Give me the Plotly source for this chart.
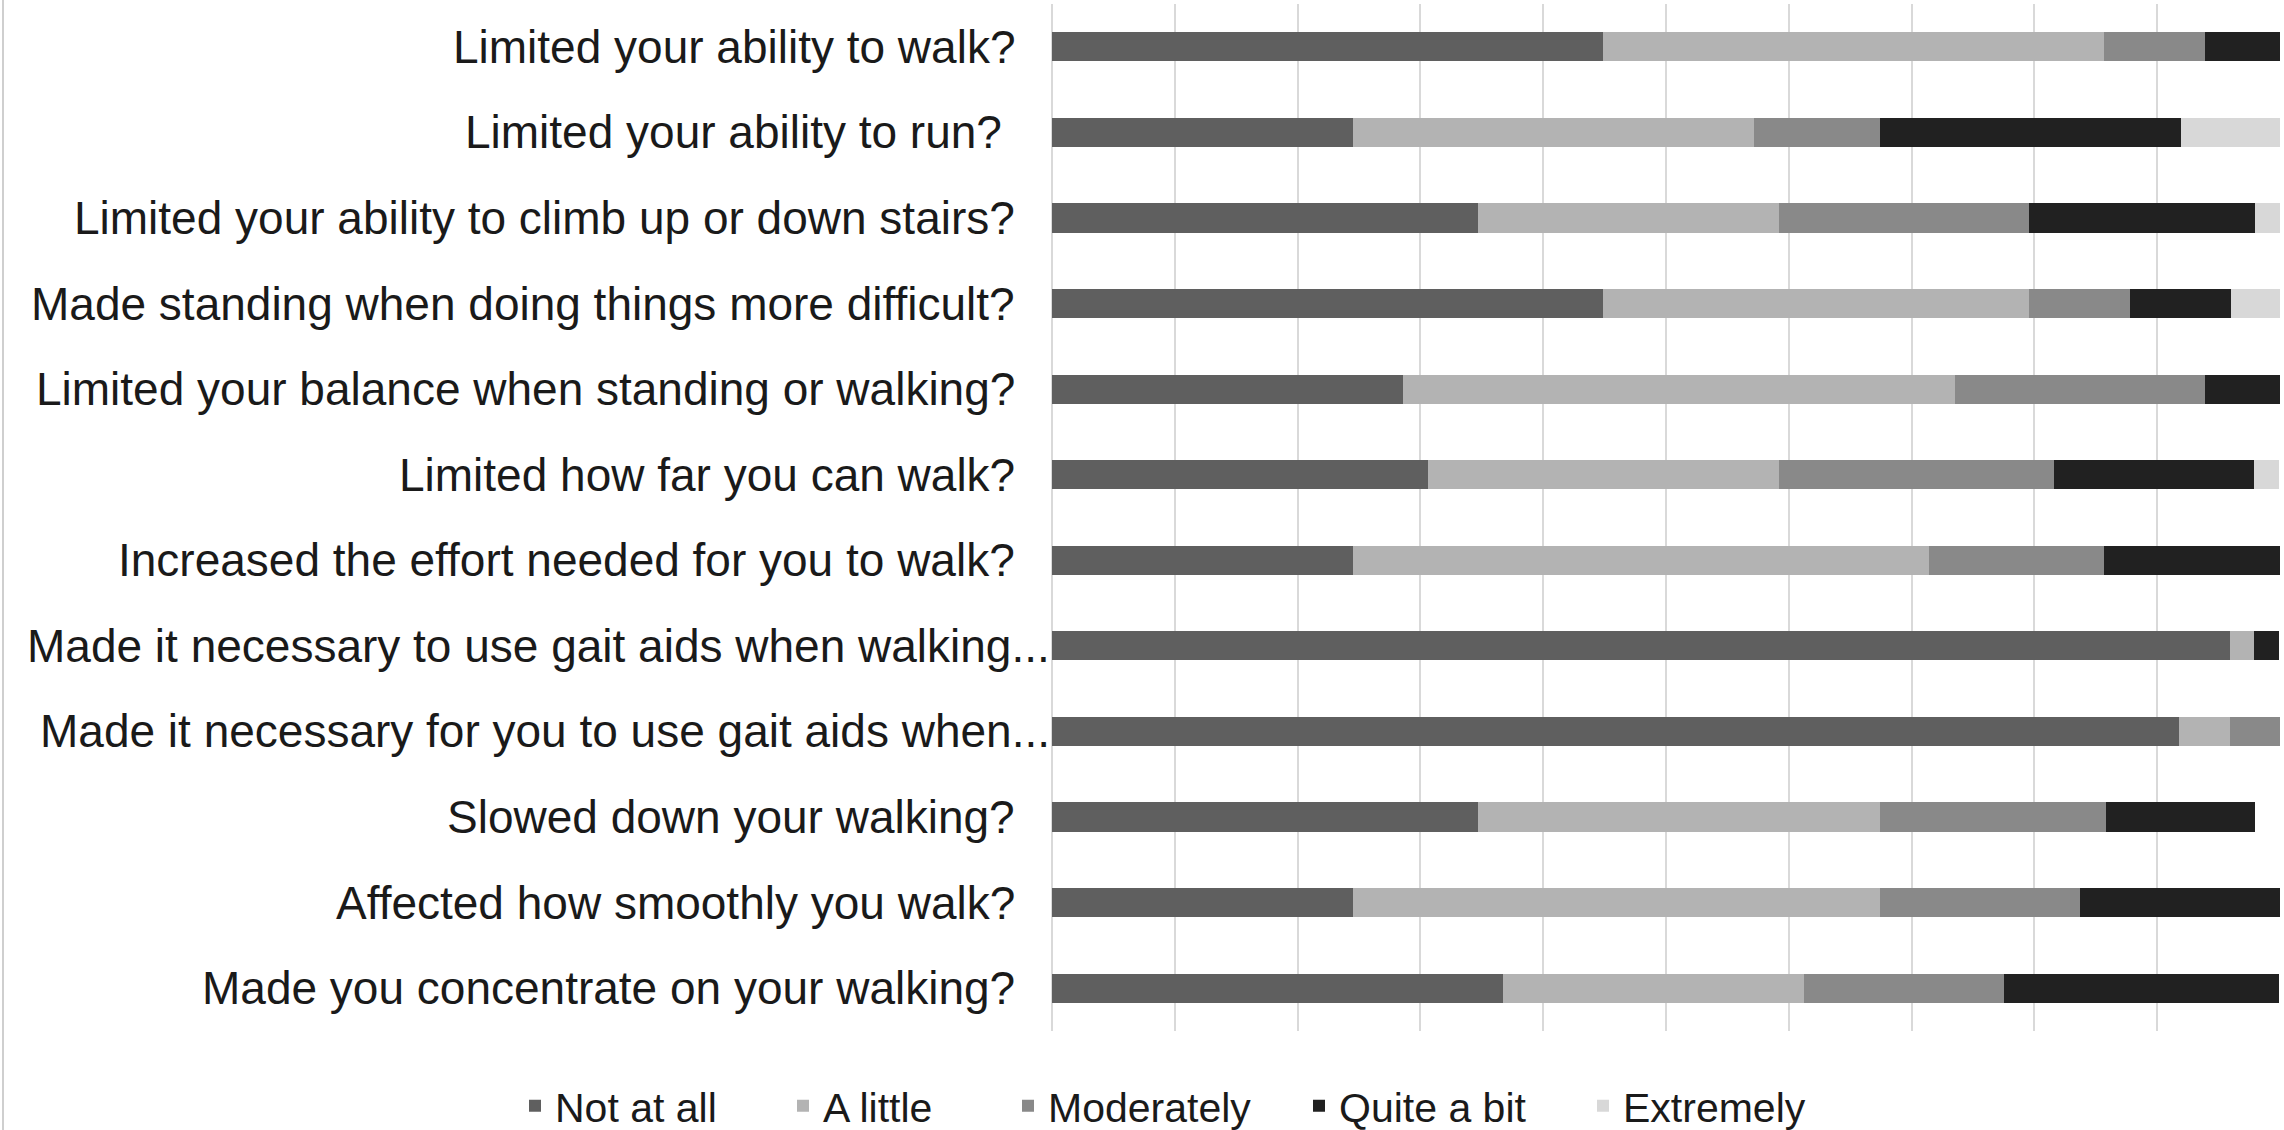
import plotly.graph_objects as go

questions = [
    "Limited your ability to walk?",
    "Limited your ability to run?\u00a0",
    "Limited your ability to climb up or down stairs?",
    "Made standing when doing things more difficult?",
    "Limited your balance when standing or walking?",
    "Limited how far you can walk?",
    "Increased the effort needed for you to walk?",
    "Made it necessary to use gait aids when walking...",
    "Made it necessary for you to use gait aids when...",
    "Slowed down your walking?",
    "Affected how smoothly you walk?",
    "Made you concentrate on your walking?",
]

not_at_all = [44.9, 24.5, 34.7, 44.9, 28.6, 30.6, 24.5, 95.9, 91.8, 34.7, 24.5, 36.7]
a_little = [40.8, 32.7, 24.5, 34.7, 44.9, 28.6, 46.9, 2.0, 4.1, 32.7, 42.9, 24.5]
moderately = [8.2, 10.2, 20.4, 8.2, 20.4, 22.4, 14.3, 0, 4.1, 18.4, 16.3, 16.3]
quite_a_bit = [6.1, 24.5, 18.4, 8.2, 6.1, 16.3, 14.3, 2.0, 0, 12.2, 16.3, 22.4]
extremely = [0, 8.2, 2.0, 4.1, 0, 2.0, 0, 0, 0, 0, 0, 0]

series_names = ["Not at all", "A little", "Moderately", "Quite a bit", "Extremely"]
series_values = [not_at_all, a_little, moderately, quite_a_bit, extremely]
series_colors = ["#5f5f5f", "#b3b3b3", "#898989", "#212121", "#d8d8d8"]

FONT = "Liberation Sans, Arial, sans-serif"

W, H = 2284, 1130
ML, MR, MT, MB = 1052, 4, 4, 99

fig = go.Figure()
legend_ids = ["legend", "legend2", "legend3", "legend4", "legend5"]
legend_x = [515, 783, 1008, 1299, 1583]

for name, vals, col, lid in zip(series_names, series_values, series_colors, legend_ids):
    fig.add_trace(go.Bar(
        y=questions, x=vals, name=name, orientation="h",
        marker=dict(color=col, line=dict(width=0)),
        legend=lid,
    ))

layout_legends = {}
for lid, lx in zip(legend_ids, legend_x):
    layout_legends[lid] = dict(
        x=lx / W, xref="container", xanchor="left",
        y=1 - 1106 / H, yref="container", yanchor="middle",
        orientation="h", bgcolor="rgba(0,0,0,0)",
        font=dict(family=FONT, size=41, color="#1a1a1a"),
        itemwidth=30,
    )

# category labels drawn as annotations so the truncated ones can overhang the axis
annotations = []
for q in questions:
    overhang = q.endswith("...")
    annotations.append(dict(
        x=0, xref="paper", y=q, yref="y",
        text=q, showarrow=False, xanchor="right", yanchor="middle",
        xshift=0 if overhang else -35,
        font=dict(family=FONT, size=46, color="#1a1a1a"),
    ))

fig.update_layout(
    width=W, height=H,
    margin=dict(l=ML, r=MR, t=MT, b=MB, autoexpand=False),
    barmode="stack", bargap=0.66,
    plot_bgcolor="white", paper_bgcolor="white",
    showlegend=True,
    xaxis=dict(range=[0, 100], dtick=10, showticklabels=False,
               showgrid=True, gridcolor="#d9d9d9", gridwidth=1.5,
               zeroline=True, zerolinecolor="#d9d9d9", zerolinewidth=1.5,
               showline=False, fixedrange=True, automargin=False),
    yaxis=dict(autorange="reversed", showgrid=False, zeroline=False,
               ticks="", showticklabels=False, automargin=False),
    annotations=annotations,
    shapes=[dict(type="line", xref="paper", yref="paper",
                 x0=-(ML - 3) / (W - ML - MR), x1=-(ML - 3) / (W - ML - MR),
                 y0=-MB / (H - MT - MB), y1=1 + MT / (H - MT - MB),
                 line=dict(color="#cfcfcf", width=2))],
    **layout_legends,
)

fig.write_html(
    "out.html",
    config={"displayModeBar": False},
    post_script="document.body.style.margin='0';document.body.style.overflow='hidden';",
)
